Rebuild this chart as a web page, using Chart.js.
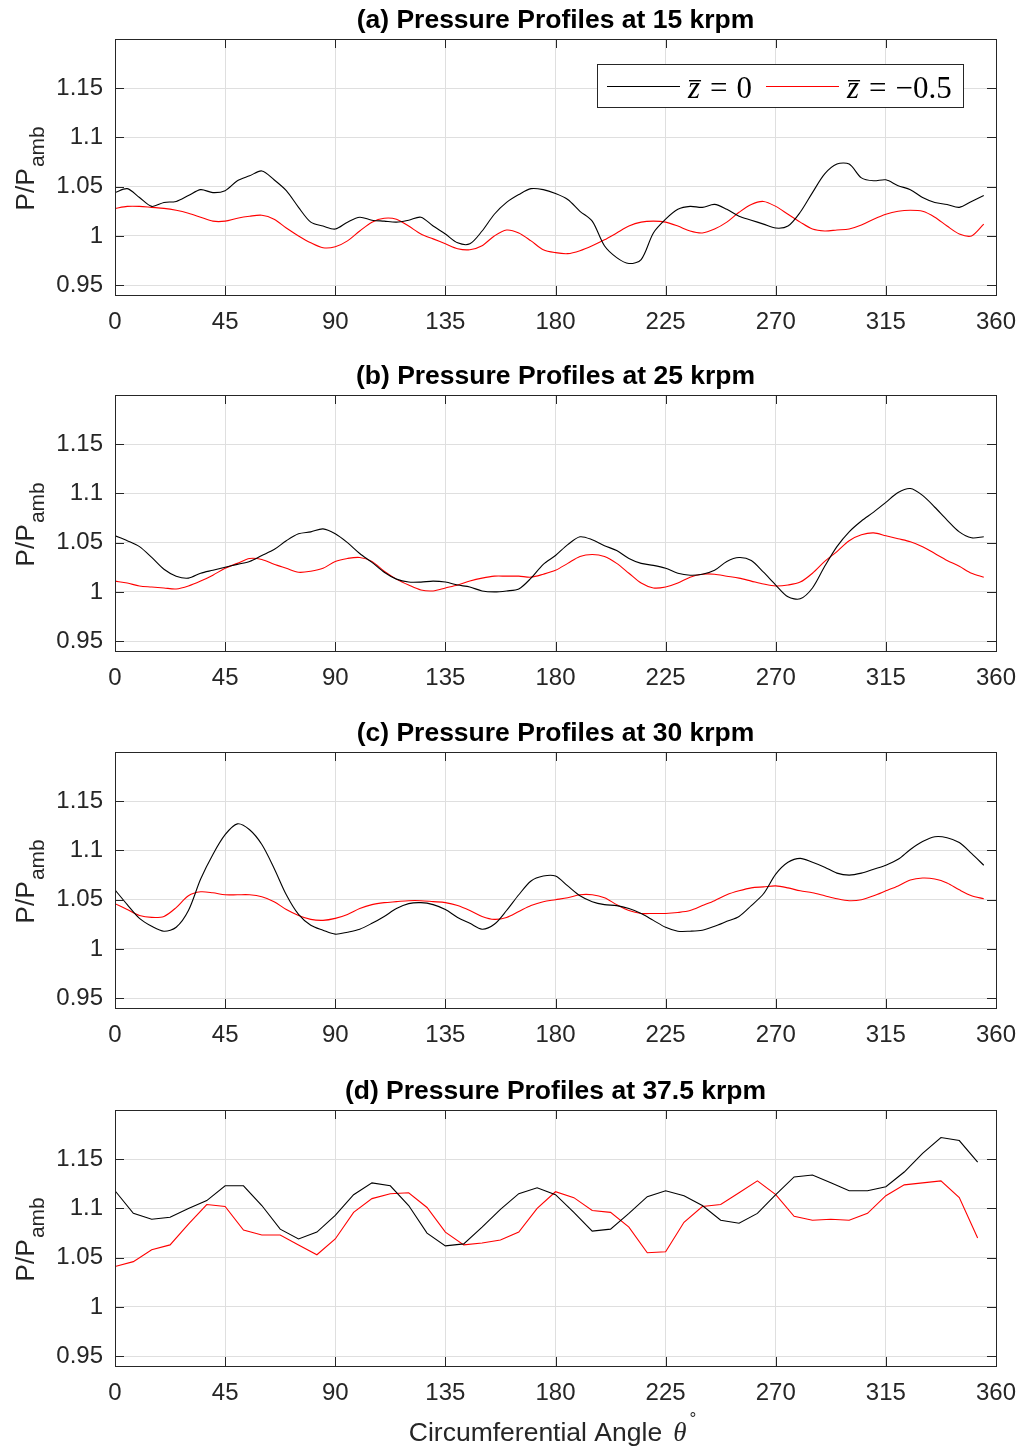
<!DOCTYPE html>
<html>
<head>
<meta charset="utf-8">
<title>Pressure Profiles</title>
<script src="https://cdn.jsdelivr.net/npm/chart.js@4.4.1/dist/chart.umd.min.js"></script>
<style>
  html, body { margin: 0; padding: 0; background: #fff; }
  #page { position: relative; width: 1020px; height: 1448px; overflow: hidden; }
  #page canvas { position: absolute; left: 0; }
</style>
</head>
<body>
<div id="page">
  <canvas id="pa" width="1020" height="357" style="top:0px"></canvas>
  <canvas id="pb" width="1020" height="357" style="top:356px"></canvas>
  <canvas id="pc" width="1020" height="357" style="top:713px"></canvas>
  <canvas id="pd" width="1020" height="377" style="top:1071px"></canvas>
</div>
<script>
// circumferential angles (deg) of the measured points
const angles5 = [0,5,10,15,20,25,30,35,40,45,50,55,60,65,70,75,80,85,90,95,100,105,110,115,
  120,125,130,135,140,145,150,155,160,165,170,175,180,185,190,195,200,205,210,215,220,225,230,235,
  240,245,250,255,260,265,270,275,280,285,290,295,300,305,310,315,320,325,330,335,340,345,350,355];
const angles75 = [0,7.5,15,22.5,30,37.5,45,52.5,60,67.5,75,82.5,90,97.5,105,112.5,
  120,127.5,135,142.5,150,157.5,165,172.5,180,187.5,195,202.5,210,217.5,225,232.5,
  240,247.5,255,262.5,270,277.5,285,292.5,300,307.5,315,322.5,330,337.5,345,352.5];

const xTicks = [0,45,90,135,180,225,270,315,360];
const yTicks = [0.95,1,1.05,1.1,1.15];

const titles = [
  '(a) Pressure Profiles at 15 krpm',
  '(b) Pressure Profiles at 25 krpm',
  '(c) Pressure Profiles at 30 krpm',
  '(d) Pressure Profiles at 37.5 krpm'
];

// P/Pamb at z = 0 (black) and z = -0.5 (red)
const a_z0 = [1.044,1.048,1.039,1.030,1.034,1.035,1.041,1.047, 1.044,1.046,1.056,1.061,1.066,1.057,1.046,1.029,
  1.014,1.010,1.007,1.014,1.019,1.016,1.015,1.014, 1.016,1.019,1.010,1.002,0.993,0.992,1.005,1.022,
  1.034,1.042,1.048,1.047,1.043,1.037,1.025,1.015, 0.990,0.978,0.972,0.976,1.003,1.017,1.027,1.030,
  1.029,1.032,1.027,1.020,1.016,1.012,1.008,1.010, 1.024,1.044,1.063,1.073,1.073,1.059,1.056,1.057,
  1.051,1.047,1.039,1.034,1.032,1.029,1.035,1.041];
const a_zm05 = [1.028,1.030,1.030,1.029,1.028,1.026,1.023,1.019, 1.015,1.015,1.018,1.020,1.021,1.017,1.008,1.000,
  0.993,0.988,0.989,0.995,1.005,1.014,1.018,1.017, 1.010,1.002,0.997,0.992,0.987,0.986,0.990,1.000,
  1.006,1.003,0.995,0.986,0.983,0.982,0.985,0.990, 0.996,1.003,1.010,1.014,1.015,1.014,1.010,1.005,
  1.003,1.007,1.014,1.024,1.032,1.035,1.030,1.022, 1.014,1.007,1.005,1.006,1.007,1.011,1.017,1.022,
  1.025,1.026,1.025,1.019,1.010,1.002,1.000,1.012];

const b_z0 = [1.057,1.052,1.046,1.035,1.023,1.016,1.014,1.019, 1.022,1.025,1.028,1.031,1.037,1.043,1.052,1.059,
  1.061,1.064,1.059,1.050,1.039,1.030,1.020,1.013, 1.010,1.010,1.011,1.010,1.007,1.005,1.001,1.000,
  1.001,1.003,1.014,1.028,1.037,1.048,1.056,1.053, 1.047,1.042,1.034,1.029,1.027,1.024,1.019,1.017,
  1.018,1.022,1.031,1.035,1.032,1.020,1.007,0.995, 0.993,1.004,1.026,1.046,1.061,1.072,1.081,1.091,
  1.101,1.105,1.098,1.086,1.073,1.061,1.055,1.056];
const b_zm05 = [1.011,1.009,1.006,1.005,1.004,1.003,1.006,1.011, 1.017,1.024,1.029,1.034,1.033,1.028,1.024,1.020,
  1.021,1.024,1.031,1.034,1.035,1.031,1.021,1.013, 1.007,1.002,1.001,1.004,1.007,1.011,1.014,1.016,
  1.016,1.016,1.015,1.018,1.022,1.029,1.036,1.038, 1.036,1.029,1.019,1.009,1.004,1.005,1.009,1.015,
  1.018,1.018,1.016,1.014,1.011,1.008,1.006,1.007, 1.010,1.019,1.031,1.041,1.052,1.058,1.060,1.057,
  1.054,1.051,1.046,1.039,1.032,1.026,1.019,1.015];

const c_z0 = [1.060,1.045,1.031,1.023,1.018,1.022,1.039,1.071, 1.096,1.116,1.127,1.121,1.106,1.082,1.055,1.035,
  1.024,1.019,1.015,1.017,1.020,1.026,1.033,1.041, 1.046,1.047,1.045,1.040,1.032,1.026,1.020,1.025,
  1.039,1.055,1.069,1.074,1.074,1.064,1.054,1.048, 1.045,1.044,1.041,1.036,1.029,1.022,1.018,1.018,
  1.019,1.023,1.028,1.033,1.044,1.056,1.076,1.088, 1.092,1.088,1.083,1.077,1.075,1.077,1.081,1.085,
  1.091,1.101,1.109,1.114,1.113,1.108,1.097,1.085];
const c_zm05 = [1.046,1.040,1.034,1.032,1.033,1.042,1.054,1.058, 1.057,1.055,1.055,1.055,1.053,1.048,1.040,1.034,
  1.030,1.029,1.031,1.035,1.041,1.045,1.047,1.048, 1.049,1.049,1.048,1.047,1.044,1.039,1.033,1.030,
  1.032,1.038,1.044,1.048,1.050,1.052,1.055,1.055, 1.052,1.045,1.039,1.036,1.036,1.036,1.037,1.039,
  1.044,1.049,1.055,1.059,1.062,1.063,1.064,1.062, 1.059,1.057,1.054,1.051,1.049,1.050,1.054,1.059,
  1.064,1.070,1.072,1.071,1.067,1.060,1.054,1.051];

const d_z0 = [1.118,1.095,1.089,1.091,1.100,1.108,1.123,1.123, 1.103,1.079,1.069,1.076,1.093,1.114,1.126,1.123,
  1.103,1.075,1.062,1.064,1.081,1.099,1.115,1.121, 1.114,1.096,1.077,1.079,1.095,1.112,1.118,1.113,
  1.103,1.088,1.085,1.095,1.114,1.132,1.134,1.126, 1.118,1.118,1.122,1.137,1.156,1.172,1.169,1.147];
const d_zm05 = [1.041,1.046,1.058,1.063,1.084,1.104,1.102,1.078, 1.073,1.073,1.063,1.053,1.069,1.096,1.110,1.115,
  1.116,1.101,1.076,1.063,1.065,1.068,1.076,1.100, 1.117,1.111,1.098,1.096,1.081,1.055,1.056,1.086,
  1.102,1.104,1.116,1.128,1.114,1.092,1.088,1.089, 1.088,1.095,1.113,1.124,1.126,1.128,1.111,1.070];

const SANS = '"Liberation Sans", Arial, Helvetica, sans-serif';
const SERIF = '"Liberation Serif", "Times New Roman", serif';
const AXIS_COLOR = '#262626';
const GRID_COLOR = '#dfdfdf';

// box around the axes with inward tick marks on all four sides
const framePlugin = {
  id: 'frame',
  afterDatasetsDraw(chart) {
    const { ctx, chartArea: a, scales } = chart;
    const len = 9;
    ctx.save();
    ctx.strokeStyle = AXIS_COLOR;
    ctx.lineWidth = 1;
    ctx.beginPath();
    xTicks.forEach(v => {
      const x = Math.round(scales.x.getPixelForValue(v)) + 0.5;
      ctx.moveTo(x, a.bottom); ctx.lineTo(x, a.bottom - len);
      ctx.moveTo(x, a.top); ctx.lineTo(x, a.top + len);
    });
    yTicks.forEach(v => {
      const y = Math.round(scales.y.getPixelForValue(v)) + 0.5;
      ctx.moveTo(a.left, y); ctx.lineTo(a.left + len, y);
      ctx.moveTo(a.right, y); ctx.lineTo(a.right - len, y);
    });
    ctx.stroke();
    ctx.strokeRect(Math.round(a.left) + 0.5, Math.round(a.top) + 0.5,
      Math.round(a.right - a.left), Math.round(a.bottom - a.top));
    ctx.restore();
  }
};

// panel title and the rotated P/Pamb label
const labelPlugin = {
  id: 'labels',
  afterDraw(chart, args, opts) {
    const { ctx, chartArea: a } = chart;
    ctx.save();
    ctx.fillStyle = '#000';
    ctx.font = 'bold 26.5px ' + SANS;
    ctx.textAlign = 'center';
    ctx.textBaseline = 'alphabetic';
    ctx.fillText(opts.title, (a.left + a.right) / 2, a.top - 11);

    // y label, written bottom to top
    ctx.fillStyle = AXIS_COLOR;
    const cy = (a.top + a.bottom) / 2;
    ctx.translate(34, cy);
    ctx.rotate(-Math.PI / 2);
    ctx.textAlign = 'left';
    ctx.font = '26.5px ' + SANS;
    const w1 = ctx.measureText('P/P').width;
    ctx.font = '21px ' + SANS;
    const w2 = ctx.measureText('amb').width;
    const start = -(w1 + w2) / 2 - 2;
    ctx.font = '26.5px ' + SANS;
    ctx.fillText('P/P', start, 0);
    ctx.font = '21px ' + SANS;
    ctx.fillText('amb', start + w1 + 1, 10);
    ctx.restore();
  }
};

// legend box inside panel (a)
const legendPlugin = {
  id: 'zlegend',
  afterDraw(chart) {
    const { ctx, chartArea: a } = chart;
    const bx = a.right - 399, by = a.top + 25, bw = 366, bh = 43;
    ctx.save();
    ctx.fillStyle = '#fff';
    ctx.fillRect(bx, by, bw, bh);
    ctx.strokeStyle = AXIS_COLOR;
    ctx.lineWidth = 1;
    ctx.strokeRect(Math.round(bx) + 0.5, Math.round(by) + 0.5, bw, bh);
    const ly = Math.round(by + 22) + 0.5;
    const entries = [
      { color: '#000000', x: bx + 10, value: '0' },
      { color: '#ff0000', x: bx + 169, value: '\u22120.5' }
    ];
    entries.forEach(e => {
      ctx.strokeStyle = e.color;
      ctx.beginPath();
      ctx.moveTo(e.x, ly); ctx.lineTo(e.x + 73, ly);
      ctx.stroke();
      const base = by + 34;
      let x = e.x + 81;
      ctx.fillStyle = '#000';
      ctx.font = 'italic 31px ' + SERIF;
      ctx.textBaseline = 'alphabetic';
      ctx.fillText('z', x, base);
      const zw = ctx.measureText('z').width;
      ctx.fillRect(x + 1, base - 18, zw, 1.4);
      x += zw + 10;
      ctx.font = '31px ' + SERIF;
      ctx.fillText('=', x, base);
      x += ctx.measureText('=').width + 9;
      ctx.fillText(e.value, x, base);
    });
    ctx.restore();
  }
};

// x label under the last panel
const xLabelPlugin = {
  id: 'xlabel',
  afterDraw(chart) {
    const { ctx, chartArea: a } = chart;
    ctx.save();
    ctx.fillStyle = AXIS_COLOR;
    ctx.textBaseline = 'alphabetic';
    ctx.textAlign = 'left';
    const base = a.bottom + 75;
    ctx.font = '26.5px ' + SANS;
    const t1 = 'Circumferential Angle';
    const w1 = ctx.measureText(t1).width;
    ctx.font = 'italic 27px ' + SERIF;
    const w2 = ctx.measureText('\u03b8').width;
    ctx.font = '17px ' + SANS;
    const w3 = ctx.measureText('\u00b0').width;
    let x = (a.left + a.right) / 2 - (w1 + 11 + w2 + 3 + w3) / 2 - 3;
    ctx.font = '26.5px ' + SANS;
    ctx.fillText(t1, x, base);
    x += w1 + 11;
    ctx.font = 'italic 27px ' + SERIF;
    ctx.fillText('\u03b8', x, base);
    x += w2 + 3;
    ctx.font = '17px ' + SANS;
    ctx.fillText('\u00b0', x, base - 17);
    ctx.restore();
  }
};

function makePanel(id, title, xs, z0, zm05, tension, extra, bottomPad) {
  const pts = ys => xs.map((x, i) => ({ x: x, y: ys[i] }));
  return new Chart(document.getElementById(id), {
    type: 'line',
    data: {
      datasets: [
        { data: pts(z0), borderColor: '#000000', borderWidth: 1.1, pointRadius: 0, tension: tension },
        { data: pts(zm05), borderColor: '#ff0000', borderWidth: 1.1, pointRadius: 0, tension: tension }
      ]
    },
    options: {
      responsive: false,
      animation: false,
      events: [],
      layout: { padding: { top: 39, right: 24, left: 0, bottom: bottomPad } },
      plugins: {
        legend: { display: false },
        tooltip: { enabled: false },
        labels: { title: title }
      },
      scales: {
        x: {
          type: 'linear', min: 0, max: 360,
          afterBuildTicks: s => { s.ticks = xTicks.map(v => ({ value: v })); },
          afterFit: s => { s.height = 62; s.paddingLeft = 0; s.paddingRight = 0; },
          ticks: { color: AXIS_COLOR, font: { family: SANS, size: 24 }, padding: 13,
                   maxRotation: 0, autoSkip: false, callback: v => String(v) },
          grid: { color: GRID_COLOR, drawTicks: false },
          border: { display: false }
        },
        y: {
          type: 'linear', min: 0.94, max: 1.2,
          afterBuildTicks: s => { s.ticks = yTicks.map(v => ({ value: v })); },
          afterFit: s => { s.width = 115; s.paddingTop = 0; s.paddingBottom = 0; },
          ticks: { color: AXIS_COLOR, font: { family: SANS, size: 24 }, padding: 12,
                   autoSkip: false, callback: v => String(v) },
          grid: { color: GRID_COLOR, drawTicks: false },
          border: { display: false }
        }
      }
    },
    plugins: [framePlugin, labelPlugin].concat(extra)
  });
}

makePanel('pa', titles[0], angles5, a_z0, a_zm05, 0.3, [legendPlugin], 0);
makePanel('pb', titles[1], angles5, b_z0, b_zm05, 0.3, [], 0);
makePanel('pc', titles[2], angles5, c_z0, c_zm05, 0.3, [], 0);
makePanel('pd', titles[3], angles75, d_z0, d_zm05, 0, [xLabelPlugin], 20);
</script>
</body>
</html>
